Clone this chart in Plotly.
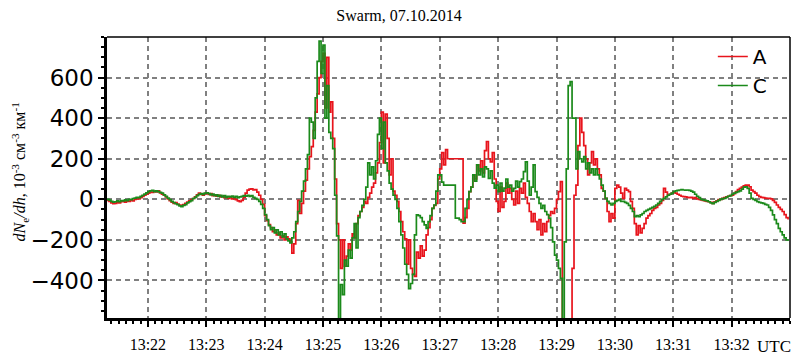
import pandas as pd
import plotly.graph_objects as go

# sample times: every 2 s from 13:21:18 to 13:32:58 UTC, 07.10.2014
time_start = "2014-10-07 13:21:18"

# dNe/dh, 10^-3 cm^-3 km^-1 — Swarm A (red), one row per minute
a_1321 = [-5, -10, -18, -22, -20, -15, -18, -12, -10, -14, -8, -10, -4, -8, 0, 5, 2, 8, 14, 20, 26]
a_1322 = [30, 36, 34, 40, 36, 42, 32, 26, 20, 12, 2, -6, -14, -20, -16, -24, -28, -30, -26, -20,
          -14, -8, -2, 4, 12, 22, 30, 26, 20, 28]
a_1323 = [30, 24, 28, 18, 22, 15, 20, 12, 16, 8, 12, 5, 10, 2, 6, -2, -8, -12, -5, 10,
          30, 45, 50, 52, 46, 48, 35, 20, 0, -25]
a_1324 = [-80, -105, -125, -140, -160, -150, -175, -165, -190, -180, -200, -185, -195, -210, -265, -220, -120, -5, -70, -20,
          40, 95, 150, 210, 260, 340, 430, 520, 600, 680]
a_1325 = [720, 450, 700, 430, 480, 300, 100, -120, -200, -340, -200, -330, -280, -220, -250, -170, -190, -120, -80, -60,
          -40, -10, -20, 10, 30, 60, 80, 130, 180, 280]
a_1326 = [430, 180, 420, 300, 120, 200, 40, 20, -10, -60, -110, -160, -195, -320, -200, -340, -370, -380, -260, -290,
          -230, -280, -250, -175, -140, -100, -45, -30, -20, 100]
a_1327 = [150, 230, 170, 245, 200, 200, 200, 200, 200, 200, 200, 200, -118, -90, -45, 38, 60, 120, 100, 170,
          140, 190, 130, 240, 285, 200, 185, 230, 100, -10]
a_1328 = [-60, 60, -40, -10, 80, 30, 54, 0, -28, 40, -20, 54, 30, 80, 10, -20, -60, -110, -70, -110,
          -150, -100, -175, -120, -160, -110, -80, -60, -70, -45]
a_1329 = [0, 38, 87, -600, -600, -600, -600, -600, -340, 20, 70, 265, 400, 330, 265, 200, 120, 180, 235, 170,
          200, 150, 120, 54, 40, 5, -60, -110, -70, -93]
a_1330 = [54, 70, 60, 30, 5, 54, 45, 38, -10, -45, -120, -175, -130, -165, -143, -120, -93, -80, -70, -55,
          -45, -40, -28, -20, -5, 54, 35, 20, 25, 30]
a_1331 = [35, 30, 25, 20, 15, 13, 12, 10, 8, 10, 5, 8, 2, 0, -3, -5, -8, -10, -12, -15,
          -20, -12, -8, -2, 0, 5, 8, 12, 15, 18]
a_1332 = [20, 28, 38, 48, 54, 60, 66, 70, 70, 62, 45, 38, 30, 20, 13, 10, 8, 6, 5, 5,
          2, -5, -15, -28, -40, -50, -60, -75, -90, -100]

# Swarm C (green)
c_1321 = [0, -4, -10, -14, -12, -8, -12, -6, -8, -3, -6, 0, -2, 4, 6, 10, 8, 14, 20, 26, 32]
c_1322 = [38, 42, 44, 38, 42, 38, 34, 30, 22, 14, 6, -2, -10, -16, -22, -26, -32, -36, -30, -26,
          -18, -12, -6, 4, 10, 18, 24, 28, 24, 30]
c_1323 = [32, 28, 22, 26, 18, 22, 14, 20, 12, 18, 10, 15, 12, 16, 10, 14, 8, 12, 14, 18,
          16, 20, 14, 18, 10, 5, 0, -10, -25, -45]
c_1324 = [-75, -100, -130, -150, -140, -165, -150, -175, -160, -185, -170, -195, -205, -215, -190, -160, -110, -60, -10, 40,
          90, 150, 220, 400, 380, 300, 500, 680, 780, 620]
c_1325 = [760, 400, 560, 330, 300, 250, 20, -180, -600, -420, -470, -300, -330, -250, -290, -190, -120, -240, -90, -60,
          -30, 0, 60, 180, 120, 160, 100, 190, 320, 400]
c_1326 = [250, 380, 180, 140, 80, 50, 20, 0, -45, -110, -175, -240, -320, -370, -440, -415, -370, -175, -77, -80,
          -90, -110, -126, -143, -110, -80, -45, -28, 40, 120]
c_1327 = [120, 85, 70, 70, 70, 70, 70, 70, -93, -93, -100, -110, -110, -45, 0, 38, 60, 120, 90, 170,
          120, 150, 110, 160, 150, 103, 140, 80, 55, 70]
c_1328 = [38, 80, 40, 55, 100, 60, 70, 40, 54, 90, 60, 87, 100, 136, 185, 90, 20, 60, 170, 38,
          10, -20, -45, -30, -60, -75, -93, -140, -210, -275]
c_1329 = [-300, -340, -390, -600, -210, 150, 560, 580, 400, 400, 150, 235, 200, 185, 210, 150, 180, 130, 150, 120,
          150, 120, 100, 70, 40, 5, -10, -20, -28, -20]
c_1330 = [-10, -5, 0, -10, -10, -15, -20, -30, -45, -60, -85, -80, -85, -77, -70, -60, -55, -50, -45, -40,
          -35, -28, -20, -10, 0, 5, 12, 20, 25, 30]
c_1331 = [38, 42, 44, 46, 48, 46, 45, 46, 44, 40, 35, 25, 15, 8, 0, -3, -5, -8, -12, -18,
          -22, -15, -10, -5, 0, 3, 5, 10, 15, 18]
c_1332 = [25, 30, 34, 38, 42, 50, 60, 62, 54, 30, 5, 0, -5, -11, -15, -18, -20, -25, -28, -40,
          -55, -77, -100, -120, -143, -160, -175, -190, -200, -205]

a_rows = [a_1321, a_1322, a_1323, a_1324, a_1325, a_1326, a_1327, a_1328, a_1329, a_1330, a_1331, a_1332]
c_rows = [c_1321, c_1322, c_1323, c_1324, c_1325, c_1326, c_1327, c_1328, c_1329, c_1330, c_1331, c_1332]
for name, rows in (("A", a_rows), ("C", c_rows)):
    lens = [len(r) for r in rows]
    assert lens == [21] + [30] * 11, (name, lens)

swarm_a = [v for r in a_rows for v in r]
swarm_c = [v for r in c_rows for v in r]
times = pd.date_range(time_start, periods=len(swarm_a), freq="2s")

series_names = ["A", "C"]
series_colors = ["#e8141c", "#1b8a1b"]

tick_times = pd.date_range("2014-10-07 13:22:00", "2014-10-07 13:32:00", freq="1min")
tick_labels = [t.strftime("%H:%M") for t in tick_times]
y_ticks = [-400, -200, 0, 200, 400, 600]

fig = go.Figure()
for name, vals, col in zip(series_names, [swarm_a, swarm_c], series_colors):
    fig.add_trace(go.Scatter(
        x=times, y=vals, name=name, mode="lines",
        line=dict(color=col, width=1.7, shape="hv"),
    ))

grid_kw = dict(showgrid=True, gridcolor="#808080", gridwidth=1.5, griddash="5px,4px")

fig.update_layout(
    width=798, height=356,
    margin=dict(l=107, r=8, t=37, b=38),
    paper_bgcolor="white", plot_bgcolor="white",
    showlegend=True,
    legend=dict(x=0.887, y=1.0, xanchor="left", yanchor="top",
                bgcolor="rgba(0,0,0,0)", borderwidth=0,
                font=dict(family="DejaVu Sans", size=20, color="black"),
                tracegroupgap=0),
    title=dict(text="Swarm, 07.10.2014", x=0.5, xanchor="center", y=0.958, yanchor="middle",
               font=dict(family="Liberation Serif", size=16, color="black")),
    xaxis=dict(
        type="date", automargin=False,
        range=["2014-10-07 13:21:18", "2014-10-07 13:33:00"],
        tickvals=tick_times, ticktext=tick_labels,
        ticks="outside", ticklen=6, tickwidth=1.5, tickcolor="black",
        ticklabelstandoff=4,
        minor=dict(dtick=7500, ticks="outside", ticklen=3, tickcolor="black", showgrid=False),
        showline=True, linecolor="black", linewidth=2.5, mirror=False,
        tickfont=dict(family="Liberation Serif", size=16, color="black"),
        zeroline=False, **grid_kw,
    ),
    yaxis=dict(
        automargin=False,
        range=[-585, 800],
        tickvals=y_ticks,
        ticks="outside", ticklen=6, tickwidth=1.5, tickcolor="black",
        minor=dict(dtick=50, ticks="outside", ticklen=3, tickcolor="black", showgrid=False),
        showline=True, linecolor="black", linewidth=2.5, mirror=False,
        tickfont=dict(family="DejaVu Sans", size=23, color="black"),
        zeroline=False, **grid_kw,
    ),
    annotations=[
        dict(text="<i>dN</i><sub>e</sub><i>/dh</i>, 10<sup>-3</sup> см<sup>-3</sup> км<sup>-1</sup>",
             xref="paper", yref="paper", x=-0.128, y=0.52, textangle=-90,
             showarrow=False, xanchor="center", yanchor="middle",
             font=dict(family="Liberation Serif", size=16, color="black")),
        dict(text="UTC", xref="paper", yref="paper", x=0.977, y=-0.1, showarrow=False,
             xanchor="center", yanchor="middle",
             font=dict(family="Liberation Serif", size=17, color="black")),
    ],
    shapes=[
        dict(type="line", xref="paper", yref="paper", x0=0, x1=1, y0=1, y1=1,
             line=dict(color="black", width=1.5)),
        dict(type="line", xref="paper", yref="paper", x0=1, x1=1, y0=0, y1=1,
             line=dict(color="black", width=1.5)),
    ],
)

fig.write_html("out.html", config={"displayModeBar": False},
               post_script="document.body.style.margin='0';")
